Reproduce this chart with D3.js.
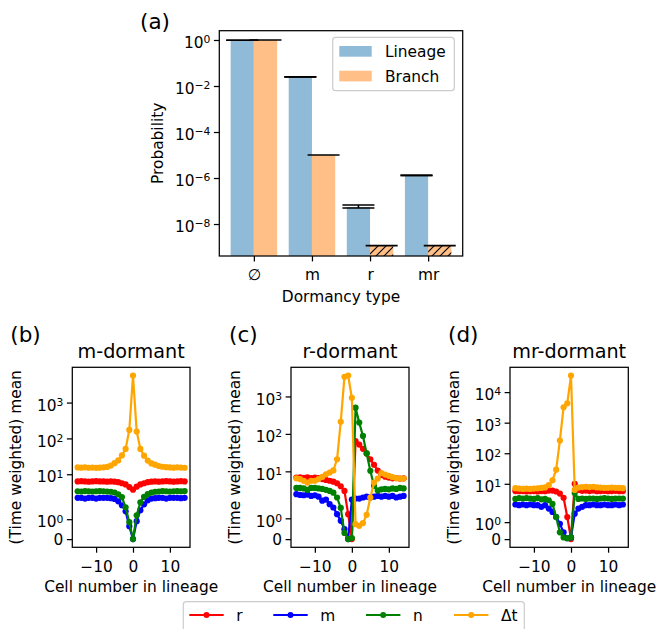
<!DOCTYPE html>
<html>
<head>
<meta charset="utf-8">
<script src="https://cdn.jsdelivr.net/npm/d3@7"></script>
<style>
  body { margin: 0; background: #fff; }
  svg { display: block; font-family: "DejaVu Sans", sans-serif; }
</style>
</head>
<body>
<svg id="fig" width="663" height="629"></svg>
<script>
// ---------- Panel (a): probability of each dormancy type ----------
const dormancyTypes = ["\u2205", "m", "r", "mr"];
const lineageProb   = [0.98, 0.025, 5.5e-8, 1.3e-6];
const lineageLow    = [0.98, 0.025, 5.0e-8, 1.3e-6];
const lineageHigh   = [0.98, 0.025, 6.7e-8, 1.3e-6];
const branchProb    = [1.0, 1.0e-5, 1.15e-9, 1.15e-9];
const branchBound   = [false, false, true, true];   // hatched: upper bound only
const probTicks     = [1, 1e-2, 1e-4, 1e-6, 1e-8];

// ---------- Panels (b)-(d): averages around the dormant cell ----------
const cellNumbers = [-15,-14,-13,-12,-11,-10,-9,-8,-7,-6,-5,-4,-3,-2,-1,0,1,2,3,4,5,6,7,8,9,10,11,12,13,14];

// m-dormant
const mDormR  = [6.3,6.4,6.3,6.2,6.3,6.4,6.3,6.3,6.2,6.3,6.2,6.0,5.6,5.2,4.4,3.7,4.5,5.2,5.6,6.0,6.2,6.3,6.2,6.3,6.4,6.3,6.2,6.3,6.4,6.3];
const mDormM  = [2.2,2.2,2.1,2.2,2.2,2.1,2.2,2.2,2.2,2.15,2.05,1.9,1.7,1.4,0.65,0.0,0.9,1.45,1.75,1.95,2.1,2.15,2.2,2.2,2.1,2.2,2.2,2.2,2.15,2.2];
const mDormN  = [3.35,3.3,3.4,3.35,3.3,3.35,3.4,3.35,3.3,3.25,3.1,2.75,2.3,1.6,0.85,0.0,1.2,1.85,2.35,2.8,3.1,3.25,3.3,3.4,3.35,3.3,3.35,3.4,3.35,3.4];
const mDormDt = [15.5,15.3,15.6,15.2,15.4,15.1,15.3,15.6,16.0,17.5,20.4,24.3,33.5,51,172,5700,155,51,33,24,20,18.5,17,16.2,15.8,15.5,15.3,15.6,15.4,15.2];

// r-dormant
const rDormR  = [6.8,6.9,6.7,6.9,6.6,6.8,6.6,6.2,5.9,5.6,5.3,4.8,4.0,3.0,1.2,0.0,64,52,40,30,21,15,10.5,8.0,7.2,6.8,6.5,6.6,6.4,6.5];
const rDormM  = [2.45,2.35,2.3,2.4,2.2,2.3,2.1,1.85,1.9,1.68,1.52,1.2,0.88,0.48,0.0,1.9,1.95,1.95,2.0,2.1,2.0,2.1,2.2,2.1,2.2,2.1,2.2,2.0,2.1,2.2];
const rDormN  = [3.6,3.6,3.5,3.2,3.6,3.6,3.5,3.4,3.2,3.0,2.7,2.0,1.5,0.3,0.0,0.05,500,200,88,30,10.3,4.1,3.1,3.3,3.4,3.3,3.5,3.4,3.6,3.5];
const rDormDt = [6.5,6.2,5.6,5.0,5.6,5.6,6.2,7.1,8.3,9.3,10.6,21,210,3350,3630,920,0.72,0.64,0.77,1.17,2.0,5.0,6.4,9.0,8.2,7.6,7.0,6.6,6.4,6.4];

// mr-dormant
const mrDormR  = [5.8,5.7,5.8,5.6,5.7,5.8,5.6,5.8,5.7,6.0,6.0,5.6,4.8,3.5,1.3,0.0,10.0,6.3,5.9,6.0,5.8,6.0,5.7,5.8,5.9,5.7,5.8,5.9,5.7,5.8];
const mrDormM  = [2.1,2.0,2.1,2.0,2.1,2.0,2.0,1.9,2.0,1.8,1.6,1.3,0.9,0.4,0.05,0.1,1.5,1.8,1.9,2.0,2.0,2.1,2.0,2.0,2.1,2.0,2.0,2.1,2.0,2.1];
const mrDormN  = [3.2,3.4,3.3,3.4,3.3,3.2,3.4,3.1,3.2,2.9,2.2,1.3,0.4,0.1,0.05,0.1,5.0,3.2,3.3,3.2,3.3,3.3,3.2,3.3,3.4,3.3,3.2,3.3,3.3,3.3];
const mrDormDt = [7.2,7.0,6.8,6.9,6.8,7.0,7.1,7.3,7.6,9.0,13,29,260,3200,4300,35000,6.3,7.5,7.8,8.0,7.8,8.0,7.6,7.5,7.3,7.4,7.5,7.4,7.3,7.2];

const seriesNames  = ["r", "m", "n", "\u0394t"];
const seriesColors = ["#ff0000", "#0000ff", "#008000", "#ffa500"];

// ---------- helpers ----------
const svg = d3.select("#fig");
const FS = 15.4;          // tick / label font size
const TICK = 5.4;         // tick length
const LW = 1.25;          // spine width

function supLabel(sel, base, exp) {
  sel.text(null);
  sel.append("tspan").text(base);
  sel.append("tspan").attr("dy", "-0.45em").attr("font-size", "0.7em").text(exp);
}
function expOf(v) { return Math.round(Math.log10(v)).toString().replace("-", "\u2212"); }

// matplotlib-style symmetric log (linthresh 2, linscale 1)
const LTH = 2, LSC = 1 / (1 - 1 / 10);
function symT(v) {
  const a = Math.abs(v);
  return a <= LTH ? v * LSC : Math.sign(v) * LTH * (LSC + Math.log10(a / LTH));
}

function frame(g, x0, x1, y0, y1) {
  g.append("rect").attr("x", x0).attr("y", y0).attr("width", x1 - x0).attr("height", y1 - y0)
    .attr("fill", "none").attr("stroke", "#000").attr("stroke-width", LW);
}

// ---------- Panel (a) ----------
{
  const L = 219.3, R = 462.7, T = 30.7, B = 256;
  const g = svg.append("g");
  const x = d3.scaleLinear().domain([-0.595, 3.595]).range([L, R]);
  const y = d3.scaleLog().domain([Math.pow(10, -9.39), Math.pow(10, 0.404)]).range([B, T]);
  const bw = x(0.4) - x(0);

  const defs = svg.append("defs");
  const pat = defs.append("pattern").attr("id", "hatch").attr("patternUnits", "userSpaceOnUse")
    .attr("width", 8).attr("height", 8);
  pat.append("rect").attr("width", 8).attr("height", 8).attr("fill", "#ffbf86");
  pat.append("path").attr("d", "M-2,2 L2,-2 M0,8 L8,0 M6,10 L10,6")
    .attr("stroke", "#000").attr("stroke-width", 1.1);

  const idx = dormancyTypes.map((d, i) => i);
  g.selectAll("rect.lin").data(idx).join("rect").attr("class", "lin")
    .attr("x", i => x(i - 0.4)).attr("width", bw)
    .attr("y", i => y(lineageProb[i])).attr("height", i => B - y(lineageProb[i]))
    .attr("fill", "#8fbbd9");
  g.selectAll("rect.br").data(idx).join("rect").attr("class", "br")
    .attr("x", i => x(i)).attr("width", bw)
    .attr("y", i => y(branchProb[i])).attr("height", i => B - y(branchProb[i]))
    .attr("fill", i => branchBound[i] ? "url(#hatch)" : "#ffbf86");

  // error bars
  const cap = 16;
  idx.forEach(i => {
    const cx = x(i - 0.2);
    g.append("line").attr("x1", cx).attr("x2", cx).attr("y1", y(lineageHigh[i])).attr("y2", y(lineageLow[i]))
      .attr("stroke", "#000").attr("stroke-width", 1.6);
    [lineageLow[i], lineageHigh[i]].forEach(v => {
      g.append("line").attr("x1", cx - cap).attr("x2", cx + cap).attr("y1", y(v)).attr("y2", y(v))
        .attr("stroke", "#000").attr("stroke-width", 1.6);
    });
    const bx = x(i + 0.2);
    g.append("line").attr("x1", bx - cap).attr("x2", bx + cap).attr("y1", y(branchProb[i])).attr("y2", y(branchProb[i]))
      .attr("stroke", "#000").attr("stroke-width", 1.6);
  });

  frame(g, L, R, T, B);

  const ya = g.append("g").attr("transform", `translate(${L},0)`)
    .call(d3.axisLeft(y).tickValues(probTicks).tickSize(TICK).tickPadding(3.5));
  ya.select(".domain").remove();
  ya.selectAll("line").attr("stroke", "#000").attr("stroke-width", LW);
  ya.selectAll("text").attr("font-size", FS).attr("font-family", "DejaVu Sans").attr("fill", "#000")
    .attr("dy", "0.5em").each(function (v) { supLabel(d3.select(this), "10", expOf(v)); });

  const xa = g.append("g").attr("transform", `translate(0,${B})`)
    .call(d3.axisBottom(x).tickValues(idx).tickSize(TICK).tickFormat(i => dormancyTypes[i]));
  xa.select(".domain").remove();
  xa.selectAll("line").attr("stroke", "#000").attr("stroke-width", LW);
  xa.selectAll("text").attr("font-size", FS).attr("font-family", "DejaVu Sans").attr("fill", "#000")
    .attr("dy", 0).attr("y", 23.5);

  g.append("text").attr("x", (L + R) / 2).attr("y", 301.5).attr("text-anchor", "middle")
    .attr("font-size", FS).text("Dormancy type");
  g.append("text").attr("transform", `translate(162.5,${(T + B) / 2}) rotate(-90)`)
    .attr("text-anchor", "middle").attr("font-size", FS).text("Probability");
  g.append("text").attr("x", 140).attr("y", 29).attr("font-size", 21.5).text("(a)");

  // legend
  const lg = g.append("g");
  lg.append("rect").attr("x", 332.7).attr("y", 37.3).attr("width", 121.6).attr("height", 53.4)
    .attr("rx", 3).attr("fill", "#fff").attr("fill-opacity", 0.8).attr("stroke", "#cccccc").attr("stroke-width", 1.2);
  [["Lineage", "#8fbbd9", 46], ["Branch", "#ffbf86", 70.7]].forEach(([lab, col, yy]) => {
    lg.append("rect").attr("x", 339.3).attr("y", yy).attr("width", 32.4).attr("height", 10.7).attr("fill", col);
    lg.append("text").attr("x", 385).attr("y", yy + 11).attr("font-size", FS).text(lab);
  });
}

// ---------- Panels (b)-(d) ----------
const panelSpecs = [
  { label: "(b)", title: "m-dormant",  L: 72.3,  R: 190,   data: [mDormR, mDormM, mDormN, mDormDt],     ticks: [0, 1, 10, 100, 1000] },
  { label: "(c)", title: "r-dormant",  L: 291,   R: 409,   data: [rDormR, rDormM, rDormN, rDormDt],     ticks: [0, 1, 10, 100, 1000] },
  { label: "(d)", title: "mr-dormant", L: 510,   R: 628.3, data: [mrDormR, mrDormM, mrDormN, mrDormDt], ticks: [0, 1, 10, 100, 1000, 10000] }
];
const PT = 367.3, PB = 547.3;

panelSpecs.forEach(p => {
  const g = svg.append("g");
  const xmin = d3.min(cellNumbers), xmax = d3.max(cellNumbers), xm = 0.05 * (xmax - xmin);
  const x = d3.scaleLinear().domain([xmin - xm, xmax + xm]).range([p.L, p.R]);
  const all = p.data.flat();
  const t0 = symT(d3.min(all)), t1 = symT(d3.max(all)), tm = 0.05 * (t1 - t0);
  const yt = d3.scaleLinear().domain([t0 - tm, t1 + tm]).range([PB, PT]);
  const y = v => yt(symT(v));

  p.data.forEach((vals, k) => {
    const pts = cellNumbers.map((c, i) => [c, vals[i]]);
    g.append("path").datum(pts)
      .attr("d", d3.line().x(d => x(d[0])).y(d => y(d[1])))
      .attr("fill", "none").attr("stroke", seriesColors[k]).attr("stroke-width", 2.2)
      .attr("stroke-linejoin", "round");
    g.selectAll(null).data(pts).join("circle")
      .attr("cx", d => x(d[0])).attr("cy", d => y(d[1])).attr("r", 3.1)
      .attr("fill", seriesColors[k]);
  });

  frame(g, p.L, p.R, PT, PB);

  const ya = g.append("g").attr("transform", `translate(${p.L},0)`)
    .call(d3.axisLeft(yt).tickValues(p.ticks.map(symT)).tickSize(TICK).tickPadding(3.5));
  ya.select(".domain").remove();
  ya.selectAll("line").attr("stroke", "#000").attr("stroke-width", LW);
  ya.selectAll("text").attr("font-size", FS).attr("font-family", "DejaVu Sans").attr("fill", "#000")
    .each(function (tv, i) {
      const v = p.ticks[i];
      const s = d3.select(this);
      if (v === 0) { s.attr("dy", "0.36em").text("0"); }
      else { s.attr("dy", "0.5em"); supLabel(s, "10", expOf(v)); }
    });

  const xa = g.append("g").attr("transform", `translate(0,${PB})`)
    .call(d3.axisBottom(x).tickValues([-10, 0, 10]).tickSize(TICK)
      .tickFormat(v => v.toString().replace("-", "\u2212")));
  xa.select(".domain").remove();
  xa.selectAll("line").attr("stroke", "#000").attr("stroke-width", LW);
  xa.selectAll("text").attr("font-size", FS).attr("font-family", "DejaVu Sans").attr("fill", "#000")
    .attr("dy", 0).attr("y", 24.4);

  const cx = (p.L + p.R) / 2;
  g.append("text").attr("x", cx).attr("y", 592).attr("text-anchor", "middle").attr("font-size", FS)
    .text("Cell number in lineage");
  g.append("text").attr("x", cx).attr("y", 358.3).attr("text-anchor", "middle").attr("font-size", 19.2)
    .text(p.title);
  g.append("text").attr("transform", `translate(${p.L - 51.5},${(PT + PB) / 2}) rotate(-90)`)
    .attr("text-anchor", "middle").attr("font-size", FS).text("(Time weighted) mean");
  g.append("text").attr("x", p.L - 62).attr("y", 342).attr("font-size", 21.5).text(p.label);
});

// ---------- shared legend ----------
{
  const g = svg.append("g");
  g.append("rect").attr("x", 183.3).attr("y", 601.7).attr("width", 341).attr("height", 40)
    .attr("rx", 3).attr("fill", "#fff").attr("stroke", "#cccccc").attr("stroke-width", 1.2);
  const lx = [189.3, 273.3, 366, 454];
  seriesNames.forEach((nm, k) => {
    g.append("line").attr("x1", lx[k]).attr("x2", lx[k] + 34.4).attr("y1", 615).attr("y2", 615)
      .attr("stroke", seriesColors[k]).attr("stroke-width", 2.2);
    g.append("circle").attr("cx", lx[k] + 17.2).attr("cy", 615).attr("r", 3).attr("fill", seriesColors[k]);
    g.append("text").attr("x", lx[k] + 47).attr("y", 620.5).attr("font-size", FS).text(nm);
  });
}
</script>
</body>
</html>
